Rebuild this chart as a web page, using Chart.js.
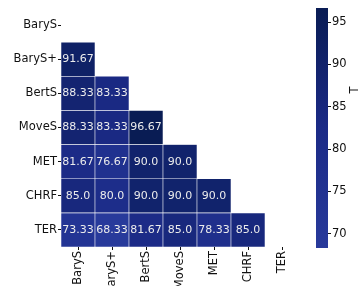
<!DOCTYPE html>
<html>
<head>
<meta charset="utf-8">
<script src="https://cdn.jsdelivr.net/npm/chart.js@4"></script>
<style>
  body { margin: 0; background: #fff; }
  #wrap { position: relative; width: 359px; height: 286px; overflow: hidden; }
  #heat { position: absolute; left: 0; top: 0; }
  #cbar { position: absolute; left: 300px; top: 0; }
</style>
</head>
<body>
<div id="wrap">
  <canvas id="heat" width="359" height="286"></canvas>
  <canvas id="cbar" width="59" height="286"></canvas>
</div>
<script>
const metrics = ['BaryS', 'BaryS+', 'BertS', 'MoveS', 'MET', 'CHRF', 'TER'];

// lower triangle, row i has i values (row 0 is empty)
const rowBaryS = [];
const rowBarySPlus = [91.67];
const rowBertS = [88.33, 83.33];
const rowMoveS = [88.33, 83.33, 96.67];
const rowMET = [81.67, 76.67, 90.0, 90.0];
const rowCHRF = [85.0, 80.0, 90.0, 90.0, 90.0];
const rowTER = [73.33, 68.33, 81.67, 85.0, 78.33, 85.0];
const rows = [rowBaryS, rowBarySPlus, rowBertS, rowMoveS, rowMET, rowCHRF, rowTER];

const vmin = 68.33;
const vmax = 96.67;
const cbarTicks = [70, 75, 80, 85, 90, 95];

const font = { family: 'DejaVu Sans', size: 11.5 };

// colour ramp (light -> dark navy)
const stops = [
  [0.0, [40, 58, 155]],
  [0.5, [27, 42, 134]],
  [1.0, [9, 28, 84]]
];
function colorFor(v) {
  let t = (v - vmin) / (vmax - vmin);
  t = Math.max(0, Math.min(1, t));
  for (let i = 0; i < stops.length - 1; i++) {
    const [t0, c0] = stops[i];
    const [t1, c1] = stops[i + 1];
    if (t <= t1) {
      const f = (t - t0) / (t1 - t0);
      const c = c0.map((x, k) => Math.round(x + (c1[k] - x) * f));
      return 'rgb(' + c.join(',') + ')';
    }
  }
  return 'rgb(' + stops[stops.length - 1][1].join(',') + ')';
}

function fmt(v) {
  return Number.isInteger(v) ? v.toFixed(1) : String(v);
}

const datasets = rows.map((vals, r) => ({
  label: metrics[r],
  grouped: false,
  data: vals.map((v, c) => ({ x: metrics[c], y: [r, r + 1], v: v })),
  backgroundColor: ctx => ctx.raw ? colorFor(ctx.raw.v) : 'transparent',
  borderColor: '#ffffff',
  borderWidth: 0.6,
  borderSkipped: false,
  barPercentage: 1,
  categoryPercentage: 1
}));

const cellLabels = {
  id: 'cellLabels',
  afterDatasetsDraw(chart) {
    const ctx = chart.ctx;
    ctx.save();
    ctx.font = '11px "DejaVu Sans"';
    ctx.fillStyle = '#ececec';
    ctx.textAlign = 'center';
    ctx.textBaseline = 'middle';
    chart.data.datasets.forEach((ds, i) => {
      chart.getDatasetMeta(i).data.forEach((el, j) => {
        const p = el.getCenterPoint();
        ctx.fillText(fmt(ds.data[j].v), p.x, p.y);
      });
    });
    ctx.restore();
  }
};

new Chart(document.getElementById('heat'), {
  type: 'bar',
  data: { labels: metrics, datasets: datasets },
  options: {
    responsive: false,
    animation: false,
    layout: { padding: { left: 0, top: 8, right: 60, bottom: 0 } },
    plugins: { legend: { display: false }, tooltip: { enabled: false } },
    scales: {
      x: {
        type: 'category',
        offset: true,
        grid: { display: true, offset: false, drawOnChartArea: false, drawTicks: true, tickLength: 3, color: '#111' },
        border: { display: false },
        ticks: { font: font, color: '#111', minRotation: 90, maxRotation: 90, autoSkip: false, padding: 1 },
        afterFit(scale) { scale.height = 39; }
      },
      y: {
        type: 'linear',
        min: 0,
        max: 7,
        reverse: true,
        grid: { display: true, drawOnChartArea: false, drawTicks: true, tickLength: 3, color: '#111' },
        border: { display: false },
        afterBuildTicks(scale) {
          scale.ticks = metrics.map((m, i) => ({ value: i + 0.5 }));
        },
        ticks: {
          font: font,
          color: '#111',
          padding: 1,
          callback: v => metrics[Math.floor(v)]
        },
        afterFit(scale) { scale.width = 61; }
      }
    }
  },
  plugins: [cellLabels]
});

// colour bar
const cbarTitle = {
  id: 'cbarTitle',
  afterDraw(chart) {
    const ctx = chart.ctx;
    const a = chart.chartArea;
    ctx.save();
    ctx.font = '11.5px "DejaVu Sans"';
    ctx.fillStyle = '#111';
    ctx.translate(55, (a.top + a.bottom) / 2 - 38);
    ctx.rotate(-Math.PI / 2);
    ctx.textAlign = 'center';
    ctx.textBaseline = 'middle';
    ctx.fillText('T', 0, 0);
    ctx.restore();
  }
};

new Chart(document.getElementById('cbar'), {
  type: 'bar',
  data: {
    labels: ['T'],
    datasets: [{
      data: [[vmin, vmax]],
      barPercentage: 1,
      categoryPercentage: 1,
      borderWidth: 0,
      backgroundColor: ctx => {
        const a = ctx.chart.chartArea;
        if (!a) return colorFor(vmin);
        const g = ctx.chart.ctx.createLinearGradient(0, a.bottom, 0, a.top);
        stops.forEach(([t, c]) => g.addColorStop(t, 'rgb(' + c.join(',') + ')'));
        return g;
      }
    }]
  },
  options: {
    responsive: false,
    animation: false,
    layout: { padding: { left: 16, top: 7, right: 0, bottom: 38 } },
    plugins: { legend: { display: false }, tooltip: { enabled: false } },
    scales: {
      x: { display: false },
      y: {
        position: 'right',
        min: vmin,
        max: vmax,
        grid: { display: true, drawOnChartArea: false, drawTicks: true, tickLength: 3, color: '#111' },
        border: { display: false },
        afterBuildTicks(scale) {
          scale.ticks = cbarTicks.map(v => ({ value: v }));
        },
        ticks: { font: font, color: '#111', padding: 1 },
        afterFit(scale) { scale.width = 31; }
      }
    }
  },
  plugins: [cbarTitle]
});
</script>
</body>
</html>
